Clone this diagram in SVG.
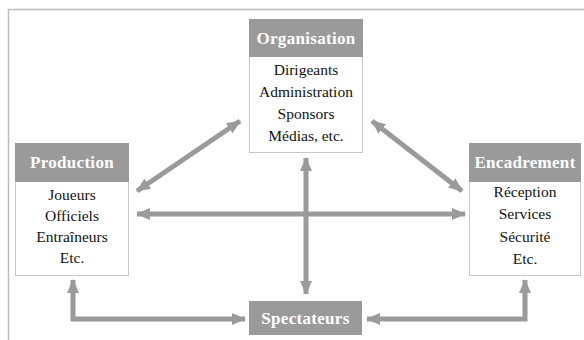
<svg xmlns="http://www.w3.org/2000/svg" width="584" height="340" viewBox="0 0 584 340">
<defs>
<style>
.box{fill:#fff;stroke:#c8c8c8;stroke-width:1}
.hdr{fill:#9a9a9a}
.ht{font-family:"Liberation Serif",serif;font-weight:bold;font-size:17px;fill:#fff;text-anchor:middle;letter-spacing:0.3px}
.bt{font-family:"Liberation Serif",serif;font-size:15.5px;fill:#111;text-anchor:middle}
.ar{fill:none;stroke:#9a9a9a;stroke-width:5}
</style>
<marker id="ah" viewBox="0 0 14 12" refX="13" refY="6" markerWidth="14" markerHeight="12" markerUnits="userSpaceOnUse" orient="auto-start-reverse">
<path d="M0,0 L14,6 L0,12 z" fill="#9a9a9a"/>
</marker>
</defs>
<rect x="0" y="0" width="584" height="340" fill="#fff"/>
<path d="M8.5,340 V9.5 H584" fill="none" stroke="#bdbdbd" stroke-width="1.5"/>

<g id="connectors">
<line class="ar" x1="240" y1="121" x2="137" y2="191" marker-start="url(#ah)" marker-end="url(#ah)"/>
<line class="ar" x1="372" y1="121" x2="462" y2="191" marker-start="url(#ah)" marker-end="url(#ah)"/>
<line class="ar" x1="137" y1="214" x2="465" y2="214" marker-start="url(#ah)" marker-end="url(#ah)"/>
<line class="ar" x1="306" y1="158" x2="306" y2="294" marker-start="url(#ah)" marker-end="url(#ah)"/>
<polyline class="ar" points="73,280 73,319 245,319" marker-start="url(#ah)" marker-end="url(#ah)"/>
<polyline class="ar" points="367,319 525,319 525,280" marker-start="url(#ah)" marker-end="url(#ah)"/>
</g>

<g id="organisation">
<rect class="box" x="249.5" y="19.5" width="113" height="133"/>
<rect class="hdr" x="249" y="19" width="114" height="38"/>
<text class="ht" x="306" y="44">Organisation</text>
<text class="bt" x="306" y="75">Dirigeants</text>
<text class="bt" x="306" y="97">Administration</text>
<text class="bt" x="306" y="119">Sponsors</text>
<text class="bt" x="306" y="141">Médias, etc.</text>
</g>

<g id="production">
<rect class="box" x="15.5" y="143.5" width="113" height="132"/>
<rect class="hdr" x="15" y="143" width="114" height="39"/>
<text class="ht" x="72" y="168">Production</text>
<text class="bt" x="72" y="200">Joueurs</text>
<text class="bt" x="72" y="221">Officiels</text>
<text class="bt" x="72" y="242">Entraîneurs</text>
<text class="bt" x="72" y="263">Etc.</text>
</g>

<g id="encadrement">
<rect class="box" x="469.5" y="143.5" width="111" height="132"/>
<rect class="hdr" x="469" y="143" width="112" height="39"/>
<text class="ht" x="525" y="168">Encadrement</text>
<text class="bt" x="525" y="197">Réception</text>
<text class="bt" x="525" y="219">Services</text>
<text class="bt" x="525" y="242">Sécurité</text>
<text class="bt" x="525" y="264">Etc.</text>
</g>

<g id="spectateurs">
<rect class="hdr" x="249" y="301" width="113" height="34"/>
<text class="ht" x="305.5" y="324">Spectateurs</text>
</g>
</svg>
